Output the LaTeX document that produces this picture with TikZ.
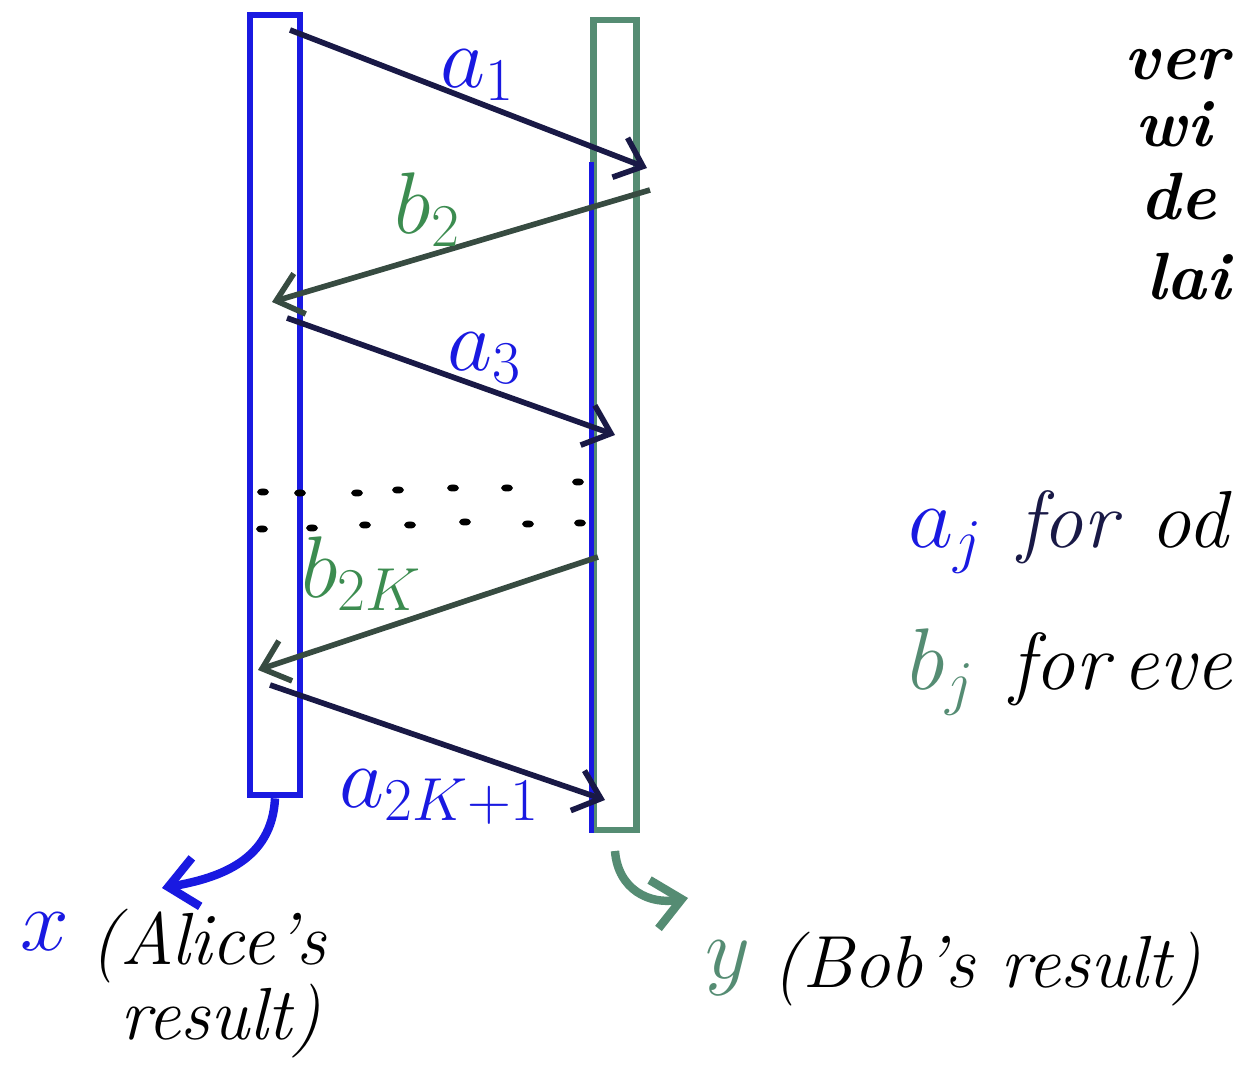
\documentclass[tikz,border=0pt]{standalone}
\usepackage{xcolor}
\usepackage{tikz}
\usetikzlibrary{arrows.meta,positioning}
\definecolor{penblue}{RGB}{25,25,225}
\definecolor{pengreen}{RGB}{85,140,115}
\definecolor{labgreen}{RGB}{60,140,80}
\definecolor{inka}{RGB}{25,25,70}
\definecolor{inkb}{RGB}{55,75,65}

\begin{document}
\begin{tikzpicture}[
        x=0.01cm, y=-0.01cm,
        font=\fontsize{26}{30}\selectfont,
        alicebar/.style={
            draw=penblue, line width=1.8pt,
            minimum width=0.5cm, minimum height=7.8cm,
            inner sep=0pt
        },
        bobbar/.style={
            draw=pengreen, line width=1.8pt,
            minimum width=0.43cm, minimum height=8.1cm,
            inner sep=0pt
        },
        msga/.style={-{Straight Barb[length=7pt,width=12pt]}, draw=inka, line width=1.6pt},
        msgb/.style={-{Straight Barb[length=7pt,width=12pt]}, draw=inkb, line width=1.6pt},
        lbla/.style={text=penblue, inner sep=0pt},
        lblb/.style={text=labgreen, inner sep=0pt},
        sidenote/.style={font=\fontsize{23}{26}\selectfont\itshape, inner sep=0pt, anchor=base west},
        topnote/.style={font=\fontsize{19}{22}\selectfont\bfseries\itshape, inner sep=0pt, anchor=base west},
        result/.style={font=\fontsize{21}{25}\selectfont\itshape, inner sep=0pt, anchor=base west},
        outarrow/.style={-{Straight Barb[length=8pt,width=14pt]}, line width=2.4pt}
    ]
    \useasboundingbox (0,0) rectangle (1233,1068);

    % the two parties
    \node[alicebar] (alice) at (275,405) {};
    \node[bobbar] (bob) at (615,425) {};
    \draw[penblue, line width=1.6pt] ([xshift=0.3pt,yshift=-1.45cm]bob.north west) -- ([xshift=0.3pt]bob.south west);

    % message end points
    \coordinate (a1s) at (290,30);
    \coordinate (a1e) at (647,168);
    \coordinate (b2s) at (650,190);
    \coordinate (b2e) at (272,302);
    \coordinate (a3s) at (287,318);
    \coordinate (a3e) at (615,435);
    \coordinate (bks) at (598,557);
    \coordinate (bke) at (258,670);
    \coordinate (aks) at (270,685);
    \coordinate (ake) at (605,800);

    % messages
    \draw[msga] (a1s) -- (a1e);
    \draw[msgb] (b2s) -- (b2e);
    \draw[msga] (a3s) -- (a3e);
    \draw[msgb] (bks) -- (bke);
    \draw[msga] (aks) -- (ake);

    \node[lbla] (la1) at (478,75) {$a_1$};
    \node[lblb] (lb2) at (428,210) {$b_2$};
    \node[lbla] (la3) at (485,358) {$a_3$};
    \node[lblb] (lbk) at (362,574) {$b_{2K}$};
    \node[lbla] (lak) at (440,797) {$a_{2K+1}$};

    % rounds left out
    \foreach \x/\y in {263/492,300/493,357/493,398/490,453/488,507/488,578/482,
                       262/529,312/528,365/525,410/525,465/522,528/524,580/523}
        \fill[black] (\x,\y) ellipse (6 and 3.5);

    % results
    \coordinate (xtip) at (162,888);
    \coordinate (ytip) at (688,898);
    \draw[outarrow, penblue] (alice.south) .. controls (272,860) and (220,878) .. (xtip);
    \draw[outarrow, pengreen] ([yshift=-5pt]bob.south) .. controls (618,890) and (650,905) .. (ytip);

    \node[lbla, font=\fontsize{32}{36}\selectfont] (xres) at (45,932) {$x$};
    \node[result] (alres) at (90,965) {(Alice's};
    \node[result] (alres2) at (120,1040) {result)};
    \node[text=pengreen, inner sep=0pt, font=\fontsize{32}{36}\selectfont] (yres) at (728,968) {$y$};
    \node[result] (bobres) at (772,988) {(Bob's result)};

    % notes on the right
    \node[sidenote, text=penblue] (aj) at (908,548) {$a_j$};
    \node[sidenote, text=inka] (ajfor) at (1018,548) {for};
    \node[sidenote] (ajodd) at (1150,548) {od};
    \node[sidenote, text=pengreen] (bj) at (908,690) {$b_j$};
    \node[sidenote] (bjfor) at (1010,690) {for};
    \node[sidenote] (bjeven) at (1122,690) {eve};

    \node[topnote] (top1) at (1124,80) {ver};
    \node[topnote] (top2) at (1135,147) {wi};
    \node[topnote] (top3) at (1140,220) {de};
    \node[topnote] (top4) at (1146,300) {lai};

\end{tikzpicture}
\end{document}
